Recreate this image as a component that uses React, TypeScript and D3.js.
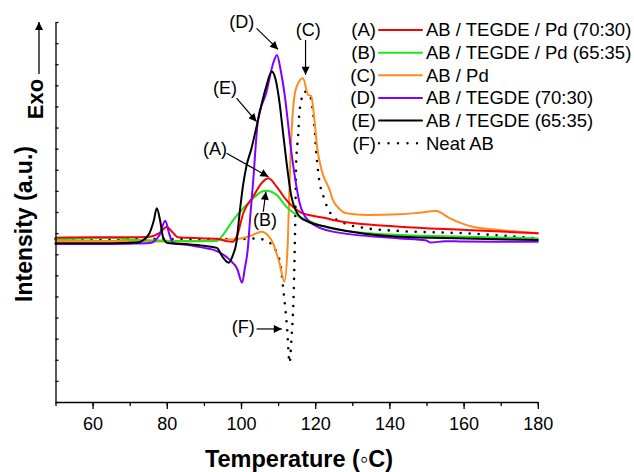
import React, { useRef, useEffect } from 'react';
import * as d3 from 'd3';

// DSC traces, [temperature (°C), intensity (a.u.)]
const seriesA: [number, number][] = [
  [50, 7.78], [60, 7.8], [70, 7.8], [75, 7.82], [78, 8.0], [80, 8.29], [81.5, 8.05], [83, 7.8],
  [90, 7.75], [94, 7.72], [96, 7.62], [97.8, 7.59], [99, 7.9], [100.6, 8.94], [103.3, 9.73],
  [105.5, 10.36], [107.4, 10.6], [109.6, 10.2], [112.2, 9.57], [115.8, 9.01], [120, 8.8],
  [123, 8.7], [124.7, 8.62], [142.7, 8.3], [160.7, 8.15], [180, 7.99],
];
const seriesB: [number, number][] = [
  [50, 7.71], [58, 7.74], [64.6, 7.78], [70, 7.7], [75, 7.66], [85, 7.63], [93.5, 7.63],
  [94.7, 7.82], [97.9, 8.62], [100.6, 9.18], [103.3, 9.65], [105.5, 9.96], [106.8, 10.01],
  [109.6, 9.81], [112.2, 9.25], [115.8, 8.78], [118, 8.6], [124.7, 8.2], [142.7, 7.91],
  [160.7, 7.83], [180, 7.75],
];
const seriesC: [number, number][] = [
  [50, 7.63], [70, 7.63], [80, 7.6], [90, 7.62], [95, 7.68], [100, 7.75], [103, 7.9],
  [105.5, 8.07], [108.2, 7.67], [110.4, 6.57], [111.7, 5.7], [112.6, 7.52], [113.3, 11.46],
  [114, 13.83], [115, 14.94], [116.7, 15.33], [118.1, 14.55], [118.9, 14.5], [119.8, 13.36],
  [120.5, 12.1], [121.7, 11.0], [123.9, 10.04], [124.7, 9.6], [126.5, 9.15], [128.4, 8.94],
  [133.8, 8.86], [142.7, 8.89], [148.1, 8.97], [152.6, 9.05], [156.3, 8.7], [162.5, 8.3],
  [169.7, 8.15], [180, 7.99],
];
const seriesD: [number, number][] = [
  [50, 7.48], [60, 7.48], [70, 7.5], [75.4, 7.53], [78, 7.9], [79.6, 8.59], [80.6, 8.0],
  [81.7, 7.53], [85, 7.45], [90, 7.3], [93.5, 7.15], [97, 6.73], [99, 6.3], [100.3, 5.65],
  [101, 6.3], [101.8, 7.2], [102.5, 8.8], [103.2, 10.28], [104.6, 13.36], [106.8, 14.64],
  [108.7, 16.06], [109.7, 16.44], [110.6, 15.8], [111.7, 14.64], [113.6, 11.8], [115.8, 9.43],
  [118, 8.62], [118.5, 8.54], [124.7, 8.07], [142.7, 7.75], [150, 7.65], [151, 7.55],
  [155, 7.62], [160, 7.6], [180, 7.59],
];
const seriesE: [number, number][] = [
  [50, 7.52], [65, 7.52], [72, 7.55], [75, 7.9], [76.5, 8.6], [77.3, 9.18], [78.2, 8.6],
  [79, 7.8], [80.3, 7.53], [85, 7.48], [90, 7.4], [93.5, 7.3], [95, 6.88], [96.7, 6.6],
  [97.7, 6.9], [98.8, 7.6], [99.6, 8.9], [100.5, 10.2], [101.5, 11.2], [102.8, 12.0],
  [104, 12.9], [105, 13.69], [106.8, 14.94], [108.3, 15.65], [109.3, 15.3], [110.4, 14.16],
  [111.3, 12.8], [112.2, 11.46], [113.6, 9.73], [115.8, 8.78], [118, 8.55], [123, 8.3],
  [124.7, 8.23], [142.7, 7.83], [160.7, 7.75], [180, 7.67],
];
const seriesF: [number, number][] = [
  [50, 7.72], [60, 7.72], [70, 7.72], [80, 7.72], [90, 7.72], [100, 7.72], [104, 7.75],
  [107.3, 7.59], [110.4, 6.73], [111.5, 5.16], [112.4, 3.56], [113.1, 1.85], [113.6, 3.0],
  [114.2, 5.16], [114.6, 8.3], [114.9, 11.46], [115.4, 12.6], [115.8, 13.83], [117.2, 14.7],
  [118.5, 14.54], [119.8, 13.04], [120.3, 11.8], [121.1, 10.5], [122.2, 9.75], [124.8, 8.78],
  [128, 8.46], [133.8, 8.23], [142.7, 8.1], [160.7, 7.99], [180, 7.75],
];

const letters = ['(A)', '(B)', '(C)', '(D)', '(E)', '(F)'];
const names = [
  'AB / TEGDE / Pd (70:30)',
  'AB / TEGDE / Pd (65:35)',
  'AB / Pd',
  'AB / TEGDE (70:30)',
  'AB / TEGDE (65:35)',
  'Neat AB',
];
const colors = ['#ff0000', '#1ee61e', '#ff8a1e', '#7f00ff', '#000000', '#000000'];
const allSeries = [seriesA, seriesB, seriesC, seriesD, seriesE, seriesF];
// drawing order, back to front
const drawOrder = [5, 2, 1, 0, 3, 4];

// callouts: [label, textT, textV, fromT, fromV, toT, toV]
const callouts: [string, number, number, number, number, number, number][] = [
  ['(D)', 100.2, 18.0, 104.2, 17.7, 110.0, 16.7],
  ['(C)', 118.1, 17.62, 117.4, 17.15, 117.4, 15.5],
  ['(E)', 95.7, 14.91, 98.8, 14.39, 104.2, 13.28],
  ['(A)', 93.0, 12.02, 96.1, 11.78, 107.4, 10.67],
  ['(B)', 106.5, 8.62, 106.0, 9.01, 106.7, 9.96],
  ['(F)', 100.6, 3.57, 104.2, 3.46, 111.0, 3.46],
];

const W = 634;
const H = 472;

export default function App() {
  const xAxisRef = useRef<SVGGElement>(null);
  const yAxisRef = useRef<SVGGElement>(null);

  const x = d3.scaleLinear().domain([50, 180]).range([55.5, 537.8]);
  const y = d3.scaleLinear().domain([0, 18]).range([402, 22]);

  const line = d3.line<[number, number]>()
    .x(d => x(d[0]))
    .y(d => y(d[1]))
    .curve(d3.curveMonotoneX);

  useEffect(() => {
    const gx = d3.select(xAxisRef.current);
    gx.selectAll('*').remove();
    gx.append('g')
      .call(d3.axisBottom(x).tickValues(d3.range(50, 181, 10)).tickSize(4).tickFormat(() => '').tickSizeOuter(0));
    gx.append('g')
      .call(d3.axisBottom(x).tickValues(d3.range(60, 181, 20)).tickSize(7).tickPadding(8).tickSizeOuter(0))
      .call(g => g.select('.domain').remove());
    gx.selectAll('text')
      .attr('font-family', 'Arial, "Liberation Sans", sans-serif')
      .attr('font-size', 18)
      .attr('fill', '#000');
    gx.selectAll('line, path').attr('stroke', '#000').attr('stroke-width', 1.3);

    const gy = d3.select(yAxisRef.current);
    gy.selectAll('*').remove();
    gy.call(d3.axisLeft(y).tickValues(d3.range(0, 19, 1)).tickSize(-3).tickFormat(() => '').tickSizeOuter(0));
    gy.selectAll('line, path').attr('stroke', '#000').attr('stroke-width', 1.3);
  }, []);

  const font = 'Arial, "Liberation Sans", sans-serif';

  return (
    <svg width={W} height={H} style={{ position: 'absolute', left: 0, top: 0, background: '#fff' }}>
      <defs>
        <marker id="arr" viewBox="0 0 10 10" refX="10" refY="5" markerWidth="9" markerHeight="8"
          markerUnits="userSpaceOnUse" orient="auto">
          <path d="M0,0 L10,5 L0,10 z" fill="#000" />
        </marker>
      </defs>

      {drawOrder.map(i => (
        <path key={i} d={line(allSeries[i]) || ''} fill="none" stroke={colors[i]}
          strokeWidth={i === 5 ? 2.6 : 2}
          strokeDasharray={i === 5 ? '0 9' : undefined}
          strokeLinecap="round" strokeLinejoin="round" />
      ))}

      <g ref={xAxisRef} transform={`translate(0,${y(0)})`} />
      <g ref={yAxisRef} transform={`translate(${x(50)},0)`} />

      {callouts.map(([label, tt, tv, ft, fv, et, ev]) => (
        <g key={label}>
          <text x={x(tt)} y={y(tv)} dy="0.35em" textAnchor="middle" fontFamily={font} fontSize={18}>{label}</text>
          <line x1={x(ft)} y1={y(fv)} x2={x(et)} y2={y(ev)} stroke="#000" strokeWidth={1.2} markerEnd="url(#arr)" />
        </g>
      ))}

      {/* legend */}
      {names.map((n, i) => {
        const ly = 30 + i * 22.65;
        return (
          <g key={n} fontFamily={font} fontSize={18.5}>
            <text x={376} y={ly} dy="0.35em" textAnchor="end">{letters[i]}</text>
            <line x1={379} x2={422} y1={ly} y2={ly} stroke={colors[i]}
              strokeWidth={i === 5 ? 2.4 : 2}
              strokeDasharray={i === 5 ? '0 9.5' : undefined}
              strokeLinecap="round" />
            <text x={426} y={ly} dy="0.35em">{n}</text>
          </g>
        );
      })}

      {/* axis titles */}
      <text x={299} y={467} textAnchor="middle" fontFamily={font} fontSize={23.5} fontWeight="bold">
        Temperature (<tspan fontWeight="normal">◦</tspan>C)
      </text>
      <text transform="translate(32,224) rotate(-90)" textAnchor="middle" fontFamily={font} fontSize={23} fontWeight="bold">
        Intensity (a.u.)
      </text>
      <text transform="translate(43,99) rotate(-90)" textAnchor="middle" fontFamily={font} fontSize={22} fontWeight="bold">
        Exo
      </text>
      <line x1={39} y1={74} x2={39} y2={22} stroke="#000" strokeWidth={1.3} markerEnd="url(#arr)" />
    </svg>
  );
}
